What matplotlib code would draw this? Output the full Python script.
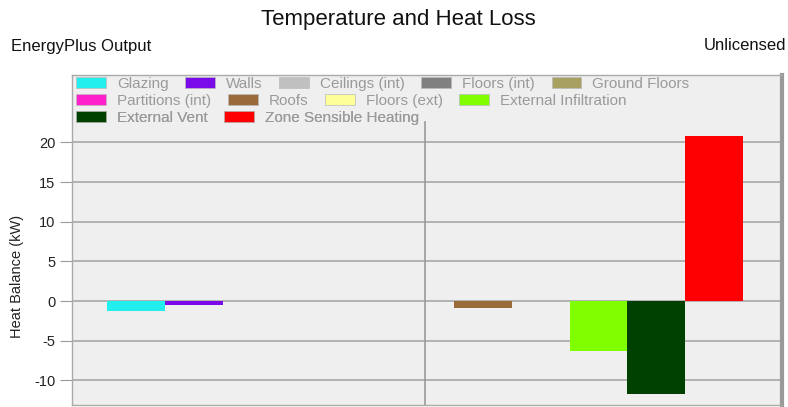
import matplotlib
matplotlib.use("Agg")
import matplotlib.pyplot as plt
from matplotlib.patches import Patch
import numpy as np

plt.rcParams["font.family"] = ["Liberation Sans", "DejaVu Sans"]

categories = ["Glazing", "Walls", "Ceilings (int)", "Floors (int)", "Ground Floors",
              "Partitions (int)", "Roofs", "Floors (ext)", "External Infiltration",
              "External Vent", "Zone Sensible Heating"]
values = [-1.2, -0.5, 0.0, -0.05, -0.05, 0.0, -0.9, 0.0, -6.3, -11.7, 20.8]
colors = ["#22eeee", "#7a0ae8", "#c0c0c0", "#808080", "#a8a060",
          "#ff22cc", "#9a6a3a", "#ffff99", "#80ff00", "#004000", "#ff0000"]
yticks = [-10, -5, 0, 5, 10, 15, 20]
legend_rows = [[0, 1, 2, 3, 4], [5, 6, 7, 8], [9, 10]]

fig = plt.figure(figsize=(7.88, 4.07), dpi=100)
fig.patch.set_facecolor("white")
ax = fig.add_axes([72/788, 1 - 405/407, (782-72)/788, (405-75)/407])
ax.set_facecolor("#efefef")

x = np.arange(len(categories))
ax.bar(x, values, width=1.0, color=colors, zorder=3)

ax.set_xlim(-1.105, 11.175)
ax.set_ylim(-13.1, 28.5)
ax.set_yticks(yticks)
ax.set_yticklabels([str(v) for v in yticks], fontsize=10.5, color="#222222")
ax.set_xticks([])
for v in yticks:
    ax.axhline(v, color="#a8a8a8", lw=1.2, zorder=1)
ax.axvline(5, ymax=(22.6 + 13.1) / (28.5 + 13.1), color="#999999", lw=1.2, zorder=1)
ax.tick_params(axis="y", length=9, color="#999999", pad=3)

for s in ["left", "top", "bottom"]:
    ax.spines[s].set_color("#aaaaaa")
    ax.spines[s].set_linewidth(1.0)
ax.spines["right"].set_color("#999999")
ax.spines["right"].set_linewidth(3)

ax.set_ylabel("Heat Balance (kW)", fontsize=10.5, color="#222222")
ax.yaxis.set_label_coords((24 - 72) / 710, (405 - 276) / 330)

fig.text(398/788, 1 - 19/407, "Temperature and Heat Loss", ha="center", va="center",
         fontsize=16, color="#111111")
fig.text(11/788, 1 - 46/407, "EnergyPlus Output", ha="left", va="center",
         fontsize=12, color="#111111")
fig.text(786/788, 1 - 46/407, "Unlicensed", ha="right", va="center",
         fontsize=12, color="#111111")

row_y = [84, 101, 118]
fs = 11
for r, idxs in enumerate(legend_rows):
    handles = [Patch(facecolor=colors[i], edgecolor="#bbbbbb", linewidth=0.5) for i in idxs]
    labels = [categories[i] for i in idxs]
    leg = ax.legend(handles, labels, ncol=len(idxs), loc="center left",
                    bbox_to_anchor=(76/788, 1 - row_y[r]/407),
                    bbox_transform=fig.transFigure, frameon=False,
                    fontsize=fs, handlelength=1.96, handleheight=0.72,
                    handletextpad=0.72, columnspacing=1.08, borderpad=0,
                    borderaxespad=0)
    for t in leg.get_texts():
        t.set_color("#9a9a9a")
    ax.add_artist(leg)

fig.savefig("out.png", dpi=100)
